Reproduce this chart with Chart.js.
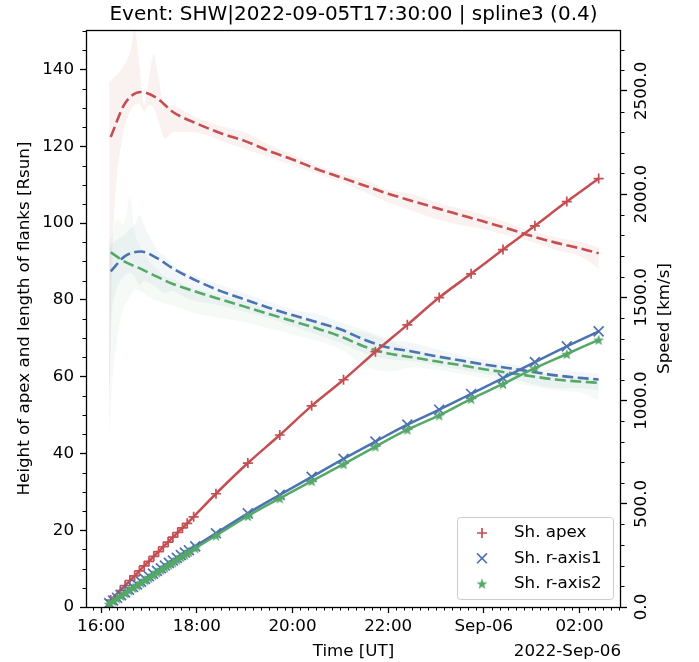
<!DOCTYPE html>
<html>
<head>
<meta charset="utf-8">
<script src="https://cdn.jsdelivr.net/npm/chart.js@4.4.1/dist/chart.umd.min.js"></script>
<style>
  html, body { margin: 0; padding: 0; background: #fff; }
  canvas { display: block; }
</style>
</head>
<body>
<canvas id="chart" width="699" height="662"></canvas>
<script>
// values
var chartTitle = 'Event: SHW|2022-09-05T17:30:00 | spline3 (0.4)';
var seriesNames = ['Sh. apex', 'Sh. r-axis1', 'Sh. r-axis2'];
var dateLabel = '2022-Sep-06';

// heights [Rsun]
var apexTimes = ['16:12','16:24','16:30','16:36','16:42','16:48','16:54','17:00','17:06','17:12',
  '17:18','17:24','17:30','17:36','17:42','17:48','17:56','18:24','19:04','19:44',
  '20:24','21:04','21:44','22:24','23:04','23:44','00:24','01:04','01:44','02:24'];
var apexHeight = [1.8,4.3,5.6,6.9,8.1,9.4,10.7,11.9,13.2,14.4,
  15.7,16.9,18.2,19.4,20.6,21.8,23.5,29.5,37.5,44.8,
  52.4,59.2,66.5,73.5,80.6,86.8,93.1,99.3,105.6,111.6];

var flankTimes = ['16:10','16:15','16:20','16:25','16:30','16:35','16:40','16:45','16:50','16:55',
  '17:00','17:05','17:10','17:15','17:20','17:25','17:30','17:35','17:40','17:45',
  '17:50','17:58','18:24','19:04','19:44','20:24','21:04','21:44','22:24','23:04',
  '23:44','00:24','01:04','01:44','02:24'];
var flank1Height = [1.0,1.7,2.4,3.1,3.8,4.5,5.2,5.9,6.6,7.3,
  8.0,8.7,9.4,10.1,10.8,11.5,12.1,12.8,13.5,14.2,
  14.8,15.8,19.2,24.4,29.2,33.9,38.6,43.1,47.5,51.4,
  55.5,59.6,63.8,67.9,71.8];
var flank2Height = [0.8,1.5,2.2,2.9,3.6,4.3,5.0,5.6,6.3,7.0,
  7.6,8.3,9.0,9.7,10.3,11.0,11.6,12.3,13.0,13.6,
  14.3,15.3,18.6,23.7,28.3,32.8,37.2,41.8,46.2,49.9,
  54.2,58.1,62.2,65.9,69.6];

// speeds [km/s]
var speedTimes = ['16:12','16:30','16:50','17:10','17:30','18:00','18:30','19:00','19:30','20:00',
  '20:30','21:00','21:30','22:00','22:30','23:00','23:30','00:00','00:30','01:00',
  '01:30','02:00','02:24'];
var apexSpeed = [2277,2440,2495,2465,2398,2342,2295,2258,2210,2168,
  2122,2082,2042,2002,1967,1933,1900,1867,1833,1797,
  1765,1738,1713];
var flank1Speed = [1626,1700,1722,1690,1640,1580,1530,1490,1450,1414,
  1380,1345,1295,1257,1238,1215,1195,1175,1158,1140,
  1122,1110,1102];
var flank2Speed = [1718,1672,1638,1600,1565,1526,1490,1455,1420,1385,
  1350,1311,1262,1228,1210,1190,1172,1152,1135,1118,
  1102,1092,1086];

// speed uncertainty bands
var bandTimes = ['16:10','16:14','16:20','16:28','16:36','16:42','16:48','16:54','17:00','17:06',
  '17:12','17:20','17:30','17:45','18:00','18:30','19:00','19:30','20:00','20:30',
  '21:00','21:30','22:00','22:30','23:00','23:30','00:00','00:30','01:00','01:30',
  '02:00','02:24'];
var apexUpper = [2540,2560,2580,2620,2680,2800,2620,2430,2560,2680,
  2560,2420,2430,2400,2370,2330,2300,2240,2190,2140,
  2100,2070,2020,2000,1960,1930,1900,1860,1820,1790,
  1770,1740];
var apexLower = [800,1700,2100,2300,2400,2430,2440,2400,2430,2420,
  2350,2270,2300,2300,2300,2260,2220,2180,2140,2100,
  2060,2010,1960,1920,1880,1850,1830,1800,1770,1730,
  1700,1640];
var flank1Upper = [1750,1760,1780,1800,1830,1850,1900,1850,1800,1760,
  1720,1700,1660,1620,1600,1560,1520,1480,1440,1420,
  1380,1340,1300,1280,1250,1220,1200,1180,1160,1150,
  1140,1130];
var flank1Lower = [1000,1450,1550,1600,1620,1600,1560,1580,1570,1560,
  1540,1520,1530,1500,1480,1460,1430,1400,1360,1320,
  1280,1230,1200,1190,1170,1150,1130,1110,1080,1060,
  1060,1050];
var flank2Upper = [1780,1800,1880,1850,1990,1820,1750,1720,1680,1650,
  1630,1600,1590,1560,1540,1510,1480,1440,1410,1380,
  1350,1330,1290,1250,1220,1200,1180,1160,1140,1120,
  1110,1100];
var flank2Lower = [820,1100,1300,1450,1500,1540,1530,1520,1500,1490,
  1480,1470,1460,1440,1420,1400,1380,1350,1320,1290,
  1250,1170,1140,1160,1150,1130,1110,1090,1070,1050,
  1040,1000];

var xTicks = ['16:00','18:00','20:00','22:00','00:00','02:00'];
var yTicks = [0,20,40,60,80,100,120,140];
var y2Ticks = [0,500,1000,1500,2000,2500];

var red = '#C44E52', blue = '#4C72B0', green = '#55A868';
var FONT = "'DejaVu Sans', sans-serif";
var FS = 16.7;

// minutes since 2022-09-05 00:00 (times before noon belong to Sep-06)
function toMin(s) {
  var p = s.split(':');
  var h = parseInt(p[0], 10), m = parseInt(p[1], 10);
  return (h < 12 ? h + 24 : h) * 60 + m;
}
function pts(times, vals) {
  return times.map(function(t, i) { return { x: toMin(t), y: vals[i] }; });
}
function fmtTime(v) {
  if (v === 1440) return 'Sep-06';
  var m = v % 1440;
  var h = Math.floor(m / 60), mm = m % 60;
  return (h < 10 ? '0' : '') + h + ':' + (mm < 10 ? '0' : '') + mm;
}

function makeStar(color, r) {
  var c = document.createElement('canvas');
  var s = Math.ceil(r * 2) + 2;
  c.width = s; c.height = s;
  var g = c.getContext('2d');
  g.fillStyle = color;
  g.beginPath();
  for (var i = 0; i < 10; i++) {
    var rr = i % 2 === 0 ? r : r * 0.4;
    var a = -Math.PI / 2 + i * Math.PI / 5;
    g.lineTo(s / 2 + rr * Math.cos(a), s / 2 + 0.6 + rr * Math.sin(a));
  }
  g.closePath();
  g.fill();
  return c;
}
var starImg = makeStar(green, 5.8);

var markers = [
  { style: 'cross', radius: 5, color: red },
  { style: 'crossRot', radius: 7, color: blue },
  { style: starImg, radius: 5, color: green }
];

function band(times, upper, lower, color) {
  return [
    { data: pts(times, upper), yAxisID: 'y2', borderColor: 'transparent', backgroundColor: color,
      pointRadius: 0, fill: '+1', order: 20, tension: 0.3 },
    { data: pts(times, lower), yAxisID: 'y2', borderColor: 'transparent', backgroundColor: 'transparent',
      pointRadius: 0, fill: false, order: 20, tension: 0.3 }
  ];
}
function speedLine(vals, color) {
  return { data: pts(speedTimes, vals), yAxisID: 'y2', borderColor: color, borderWidth: 2.6,
    borderDash: [11, 4.5], pointRadius: 0, fill: false, cubicInterpolationMode: 'monotone', order: 10 };
}
function heightLine(times, vals, mk, order) {
  return { data: pts(times, vals), yAxisID: 'y', borderColor: mk.color, borderWidth: 2.5,
    pointStyle: mk.style, pointRadius: mk.radius, pointBorderWidth: 1.7,
    pointBorderColor: mk.color, pointBackgroundColor: mk.color,
    fill: false, cubicInterpolationMode: 'monotone', order: order };
}

var datasets = []
  .concat(band(bandTimes, apexUpper, apexLower, 'rgba(196,78,82,0.08)'))
  .concat(band(bandTimes, flank1Upper, flank1Lower, 'rgba(76,114,176,0.06)'))
  .concat(band(bandTimes, flank2Upper, flank2Lower, 'rgba(85,168,104,0.06)'))
  .concat([speedLine(apexSpeed, red), speedLine(flank1Speed, blue), speedLine(flank2Speed, green)])
  .concat([heightLine(apexTimes, apexHeight, markers[0], 3),
           heightLine(flankTimes, flank1Height, markers[1], 2),
           heightLine(flankTimes, flank2Height, markers[2], 1)]);

function setTicks(list) {
  return function(scale) { scale.ticks = list.map(function(v) { return { value: v }; }); };
}

var decor = {
  id: 'decor',
  afterDraw: function(chart) {
    var ctx = chart.ctx, a = chart.chartArea;
    var xs = chart.scales.x, ys = chart.scales.y, y2 = chart.scales.y2;
    ctx.save();
    // frame
    ctx.strokeStyle = '#000';
    ctx.lineWidth = 1.3;
    ctx.strokeRect(Math.round(a.left) + 0.5, Math.round(a.top) + 0.5,
      Math.round(a.right - a.left) - 1, Math.round(a.bottom - a.top));
    // minor ticks
    ctx.lineWidth = 1;
    ctx.beginPath();
    for (var m = 950; m <= 1610; m += 10) {
      if (m % 120 === 0) continue;
      var px = Math.round(xs.getPixelForValue(m)) + 0.5;
      ctx.moveTo(px, a.bottom); ctx.lineTo(px, a.bottom + 3.5);
    }
    for (var v = 5; v <= 150; v += 5) {
      if (v % 20 === 0) continue;
      var py = Math.round(ys.getPixelForValue(v)) + 0.5;
      ctx.moveTo(a.left, py); ctx.lineTo(a.left - 3.5, py);
    }
    for (var s = 100; s <= 2790; s += 100) {
      if (s % 500 === 0) continue;
      var py2 = Math.round(y2.getPixelForValue(s)) + 0.5;
      ctx.moveTo(a.right, py2); ctx.lineTo(a.right + 3.5, py2);
    }
    ctx.stroke();

    ctx.fillStyle = '#000';
    // right tick labels, rotated
    ctx.font = FS + 'px ' + FONT;
    y2Ticks.forEach(function(t) {
      ctx.save();
      ctx.translate(a.right + 21, y2.getPixelForValue(t));
      ctx.rotate(-Math.PI / 2);
      ctx.textAlign = 'center';
      ctx.textBaseline = 'middle';
      ctx.fillText(t.toFixed(1), 0, 0);
      ctx.restore();
    });
    // axis titles
    var cy = (a.top + a.bottom) / 2, cx = (a.left + a.right) / 2;
    ctx.save();
    ctx.translate(25, cy);
    ctx.rotate(-Math.PI / 2);
    ctx.textAlign = 'center'; ctx.textBaseline = 'middle';
    ctx.fillText('Height of apex and length of flanks [Rsun]', 0, 0);
    ctx.restore();
    ctx.save();
    ctx.translate(665, cy);
    ctx.rotate(-Math.PI / 2);
    ctx.textAlign = 'center'; ctx.textBaseline = 'middle';
    ctx.fillText('Speed [km/s]', 0, 0);
    ctx.restore();
    ctx.textAlign = 'center'; ctx.textBaseline = 'middle';
    ctx.fillText('Time [UT]', cx, 652);
    ctx.textAlign = 'right';
    ctx.fillText(dateLabel, a.right, 652);
    // main title
    ctx.font = '20px ' + FONT;
    ctx.textAlign = 'center';
    ctx.textBaseline = 'alphabetic';
    ctx.fillText(chartTitle, cx, 20);

    // legend
    var lx = 457, ly = 517, lw = 156, lh = 82;
    ctx.beginPath();
    ctx.roundRect(lx + 0.5, ly + 0.5, lw, lh, 3);
    ctx.fillStyle = 'rgba(255,255,255,0.8)';
    ctx.fill();
    ctx.strokeStyle = '#cccccc';
    ctx.lineWidth = 1;
    ctx.stroke();
    ctx.font = FS + 'px ' + FONT;
    ctx.textAlign = 'left';
    ctx.textBaseline = 'middle';
    seriesNames.forEach(function(name, i) {
      var ry = 533 + i * 25.3;
      var mk = markers[i];
      ctx.strokeStyle = mk.color;
      ctx.fillStyle = mk.color;
      ctx.lineWidth = 1.7;
      Chart.helpers.drawPoint(ctx, { pointStyle: mk.style, radius: mk.radius, borderWidth: 1.7, rotation: 0 }, 482, ry);
      ctx.fillStyle = '#000';
      ctx.fillText(name, 514, ry);
    });
    ctx.restore();
  }
};

var tickGrid = { drawOnChartArea: false, drawTicks: true, tickLength: 6, tickColor: '#000', tickWidth: 1.3 };

new Chart(document.getElementById('chart'), {
  type: 'line',
  data: { datasets: datasets },
  plugins: [decor],
  options: {
    responsive: false,
    animation: false,
    layout: { padding: { top: 30, left: 0, right: 0, bottom: 0 } },
    plugins: { legend: { display: false }, tooltip: { enabled: false }, title: { display: false } },
    scales: {
      x: {
        type: 'linear', min: 941, max: 1612,
        afterBuildTicks: setTicks(xTicks.map(toMin)),
        afterFit: function(s) { s.height = 55; },
        border: { display: false },
        grid: tickGrid,
        ticks: { color: '#000', font: { family: FONT, size: FS }, padding: 4, maxRotation: 0, autoSkip: false,
          callback: function(v) { return fmtTime(v); } }
      },
      y: {
        position: 'left', min: 0, max: 150.3,
        afterBuildTicks: setTicks(yTicks),
        afterFit: function(s) { s.width = 86; },
        border: { display: false },
        grid: tickGrid,
        ticks: { color: '#000', font: { family: FONT, size: FS }, padding: 6 }
      },
      y2: {
        position: 'right', min: 0, max: 2795,
        afterBuildTicks: setTicks(y2Ticks),
        afterFit: function(s) { s.width = 78; },
        border: { display: false },
        grid: tickGrid,
        ticks: { display: false }
      }
    }
  }
});
</script>
</body>
</html>
